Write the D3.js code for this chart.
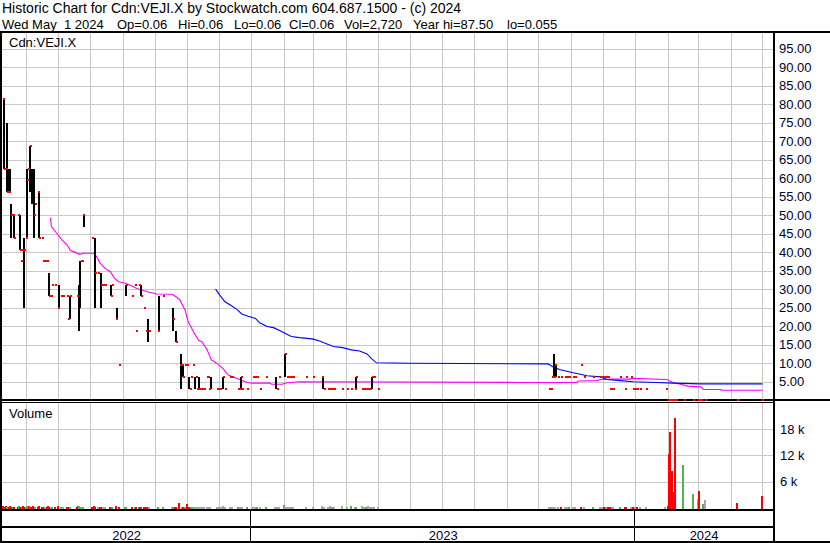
<!DOCTYPE html>
<html><head><meta charset="utf-8">
<script src="https://cdn.jsdelivr.net/npm/d3@7"></script>
<style>
body{margin:0;background:#fff;}
svg{display:block;font-family:"Liberation Sans",Arial,sans-serif;}
text{white-space:pre;}
</style></head><body>
<svg id="c" width="830" height="543"></svg>
<script>
const title1 = "Historic Chart for Cdn:VEJI.X by Stockwatch.com 604.687.1500 - (c) 2024";
const title2Parts = ["Wed May  1 2024", "Op=0.06", "Hi=0.06", "Lo=0.06", "Cl=0.06", "Vol=2,720", "Year hi=87.50", "lo=0.055"];
const symbolLabel = "Cdn:VEJI.X";
const volumeLabel = "Volume";
const startDate = "2022-05-09", endDate = "2024-05-11";
const priceTicks = [5,10,15,20,25,30,35,40,45,50,55,60,65,70,75,80,85,90,95];
const volTicks = [6000,12000,18000];
const volTickLabels = ["6 k","12 k","18 k"];
const yearLabels = ["2022","2023","2024"];

// [day offset from start, high, low]
const rangeBars = [
[1,81.25,62.5],[4,75,56.25],[5,62.5,56.25],[7,62.5,56.25],[8,53.1,43.75],[10,50,43.75],
[16,50,40.6],[20,43.75,25],[23,62.5,43.75],[26,68.75,56.25],[28,62.5,53.1],[29,62.5,43.75],
[34,56.25,43.75],[44,34.4,28.1],[53,31.25,25],[64,28.1,21.9],[72,31.25,18.75],[73,37.5,25],
[77,50,46.9],[87,43.75,25],[93,34.4,25],[103,31.25,28.1],[108,25,21.9],[117,31.25,28.1],
[131,31.25,28.1],[138,21.9,15.6],[148,28.1,18.75],[162,25,18.75],[164,18.75,15.6],
[169,12.5,3.125],[171,9.4,6.25],[177,6.25,3.125],[183,6.25,3.125],[186,6.25,3.125],
[198,6.25,3.125],[209,6.25,3.125],[226,6.25,3.125],[260,6.25,3.125],[268,12.5,6.25],
[304,6.25,3.125],[336,6.25,3.125],[351,6.25,3.125],[524,12.5,6.25],[526,9.4,6.25]
];
// [day offset, close]
const closeDots = [
[1,81.25],[2,62.5],[4,62.5],[5,56.25],[7,56.25],[9,50],[10,50],[11,43.75],[15,50],[17,40.6],[18,37.5],[19,40.6],[21,40.6],
[23,43.75],[24,59.4],[25,62.5],[27,68.75],[30,50],[31,53.1],[34,56.25],[35,43.75],[38,43.75],[39,37.5],[41,37.5],[43,37.5],
[45,28.1],[47,28.1],[48,31.25],[50,31.25],[53,25],[56,28.1],[58,28.1],[62,28.1],[63,21.9],[65,28.1],[71,28.1],[75,37.5],
[76,37.5],[77,50],[86,43.75],[88,34.4],[91,34.4],[94,31.25],[96,31.25],[98,31.25],[104,28.1],[105,31.25],[108,21.9],
[111,9.4],[118,31.25],[124,28.1],[126,31.25],[127,18.75],[130,31.25],[132,28.1],[135,25],[137,18.75],[140,18.75],
[148,18.75],[153,28.1],[163,21.9],[165,15.6],[169,9.4],[171,9.4],[172,6.25],[174,9.4],[176,9.4],[179,3.125],[180,6.25],
[182,9.4],[184,6.25],[185,3.125],[186,3.125],[188,3.125],[190,3.125],[192,3.125],[195,6.25],[196,6.25],[197,3.125],
[204,3.125],[206,3.125],[207,3.125],[210,6.25],[212,3.125],[217,6.25],[219,6.25],[224,3.125],[226,3.125],[227,6.25],
[228,3.125],[233,3.125],[239,6.25],[241,6.25],[242,6.25],[245,3.125],[251,6.25],[261,3.125],[263,6.25],[269,12.5],
[271,6.25],[273,6.25],[275,6.25],[277,6.25],[289,6.25],[296,6.25],[304,6.25],[306,3.125],[310,3.125],[312,3.125],
[314,3.125],[316,3.125],[323,3.125],[328,3.125],[332,3.125],[336,3.125],[337,6.25],[342,3.125],[344,3.125],[346,3.125],
[348,3.125],[350,3.125],[352,6.25],[354,6.25],[357,3.125],
[520,3.125],[522,3.125],[523,6.25],[525,6.25],[526,9.4],[529,6.25],[531,6.25],[535,6.25],[537,6.25],[539,6.25],
[543,6.25],[545,6.25],[550,9.4],[553,6.25],[562,6.25],[569,6.25],[570,6.25],[572,6.25],[574,6.25],[576,6.25],
[578,3.125],[580,3.125],[581,3.125],[588,6.25],[592,3.125],[593,6.25],[598,6.25],[600,3.125],[602,3.125],[604,3.125],
[607,3.125],[612,3.125],[631,3.125],[633,0.06],[635,0.06],[637,0.06],[639,0.06],[641,0.06],[648,0.06],[657,0.06],
[662,0.06],[663,0.06],[665,0.06],[668,0.06],[699,0.06],[723,0.06]
];
// moving averages [day offset, value]
const maShort = [
[46,49.3],[47,46.9],[52,45.1],[57,43.3],[62,41.9],[65,40.4],[69,40.0],[74,39.4],[77,39.7],[87,39.7],[90,38.8],
[93,37.1],[98,35.6],[103,34.7],[107,32.9],[111,32.0],[117,31.6],[123,30.9],[128,30.2],[138,29.3],[147,28.7],
[162,28.6],[166,27.8],[169,27.1],[174,24.4],[177,21.2],[182,18.5],[187,16.1],[190,15.8],[195,13.6],[199,10.9],
[204,10.0],[210,8.6],[215,6.8],[223,5.9],[231,5.0],[237,4.6],[255,4.6],[256,4.3],[266,4.3],[271,4.7],[283,5.0],
[492,4.8],[546,4.8],[548,5.2],[565,5.3],[570,5.6],[580,5.7],[597,5.7],[600,5.9],[632,5.6],[638,4.7],[645,4.3],
[652,3.8],[664,3.6],[667,2.9],[683,2.9],[684,2.7],[723,2.7]
];
const maLong = [
[203,30.0],[207,28.4],[212,26.6],[217,25.7],[223,24.6],[228,23.3],[234,22.7],[241,22.1],[245,20.9],[252,19.9],
[258,19.6],[264,18.8],[269,18.1],[275,17.2],[283,16.9],[290,16.7],[296,16.5],[302,16.0],[309,15.2],[315,14.5],
[324,14.2],[332,13.6],[340,13.3],[347,12.5],[351,11.3],[356,10.1],[388,10.0],[519,9.8],[521,9.5],[524,9.0],
[530,8.3],[537,7.8],[543,7.4],[550,7.0],[556,6.6],[569,6.3],[575,5.6],[588,5.3],[600,5.0],[622,4.8],[638,4.6],
[664,4.4],[723,4.4]
];
// volume [day offset, shares, colour: r=down g=up n=unchanged]
const volume = [
[1,350,"r"],[2,300,"r"],[4,400,"r"],[5,300,"g"],[7,300,"r"],[8,350,"r"],[9,300,"r"],[10,250,"g"],[11,300,"r"],
[15,300,"r"],[16,350,"g"],[17,300,"r"],[18,300,"r"],[19,300,"g"],[20,350,"r"],[21,300,"r"],[23,300,"g"],[24,350,"g"],
[25,300,"g"],[26,400,"r"],[27,300,"g"],[28,300,"r"],[29,350,"r"],[30,300,"r"],[31,300,"g"],[34,300,"r"],[35,350,"r"],
[38,300,"r"],[39,300,"r"],[41,300,"n"],[43,300,"r"],[44,350,"r"],[45,300,"r"],[47,300,"n"],[48,300,"g"],[50,300,"r"],
[53,350,"r"],[56,300,"g"],[58,300,"n"],[62,300,"r"],[63,300,"r"],[64,300,"r"],[65,300,"g"],[71,300,"r"],[72,350,"r"],
[73,450,"g"],[75,300,"g"],[76,300,"n"],[77,300,"g"],[86,300,"r"],[87,350,"r"],[88,300,"r"],[91,300,"n"],[93,300,"r"],
[94,300,"r"],[96,300,"n"],[98,300,"n"],[103,300,"r"],[104,300,"r"],[105,300,"g"],[108,350,"r"],[111,300,"r"],
[117,300,"g"],[118,300,"g"],[124,300,"r"],[126,300,"g"],[127,300,"r"],[130,300,"g"],[131,300,"r"],[132,300,"r"],
[135,300,"r"],[137,300,"r"],[138,300,"r"],[140,300,"n"],[148,300,"g"],[153,300,"g"],[162,300,"n"],[163,300,"g"],
[164,300,"r"],[165,300,"r"],[168,1150,"r"],[171,300,"n"],[172,300,"r"],[174,300,"g"],[176,1000,"r"],[177,300,"r"],
[179,300,"r"],[180,300,"g"],[182,300,"g"],[183,300,"n"],[184,300,"n"],[185,300,"n"],[186,300,"n"],[188,300,"n"],
[190,300,"n"],[192,300,"n"],[195,300,"n"],[196,300,"n"],[197,300,"n"],[198,300,"n"],[204,300,"n"],[206,300,"n"],
[207,300,"n"],[209,300,"n"],[210,450,"n"],[212,300,"n"],[217,300,"n"],[219,300,"n"],[224,300,"g"],[226,300,"n"],
[227,300,"n"],[228,300,"n"],[233,300,"g"],[239,300,"n"],[241,300,"n"],[242,300,"g"],[245,300,"n"],[251,300,"g"],
[260,300,"n"],[261,300,"n"],[263,300,"n"],[268,700,"g"],[269,300,"n"],[271,300,"n"],[273,300,"n"],[275,300,"n"],
[277,300,"n"],[289,300,"n"],[296,300,"n"],[304,450,"n"],[306,300,"n"],[310,300,"n"],[312,450,"n"],[314,300,"g"],
[316,300,"n"],[323,450,"n"],[328,300,"n"],[332,450,"g"],[336,300,"n"],[337,300,"g"],[342,450,"n"],[344,300,"n"],
[346,300,"g"],[348,450,"n"],[350,300,"n"],[351,300,"n"],[352,300,"n"],[354,300,"n"],[357,300,"n"],
[520,300,"n"],[522,300,"g"],[523,300,"n"],[525,300,"n"],[526,300,"n"],[529,300,"n"],[531,300,"r"],[535,300,"n"],
[537,300,"n"],[539,300,"g"],[543,300,"n"],[545,300,"n"],[550,300,"r"],[553,300,"n"],[562,300,"g"],[569,300,"n"],
[570,300,"n"],[572,300,"r"],[574,300,"n"],[576,300,"r"],[578,300,"r"],[580,300,"n"],[581,300,"n"],[588,300,"g"],
[592,300,"r"],[593,300,"r"],[598,300,"n"],[600,300,"r"],[602,300,"n"],[604,300,"r"],[607,300,"n"],[612,300,"n"],
[630,300,"n"],[633,450,"r"],[634,12300,"r"],[635,17300,"r"],[636,8400,"r"],[637,8400,"r"],[638,3600,"r"],
[640,20500,"r"],[647,9800,"g"],[657,3200,"g"],[662,2050,"n"],[663,3900,"r"],[666,900,"g"],[668,1800,"n"],
[699,1150,"r"],[723,2700,"r"]
];

const volColors = {r:"#ff0000", g:"#4cb84c", n:"#a6a6a6"};
const gridColor = "#c8c8c8";
const axisText = "#00002e";
const title2X = [2, 117, 178, 234, 289, 344, 413, 507];

const svg = d3.select("#c");
const parse = d3.timeParse("%Y-%m-%d");
const t0 = parse(startDate), t1 = parse(endDate);
const plotL = 2, plotR = 773;
const x = d3.scaleTime().domain([t0, t1]).range([plotL, plotR]);
const dayDate = d => d3.timeDay.offset(t0, d);
const xd = d => x(dayDate(d));
const y = d3.scaleLinear().domain([0, 100]).range([400.2, 30.0]);
const yv = d3.scaleLinear().domain([0, 24000]).range([508, 402.7]);

svg.append("rect").attr("width", 830).attr("height", 543).attr("fill", "#fff");

// grid
const g = svg.append("g").attr("shape-rendering", "crispEdges").attr("stroke", gridColor).attr("stroke-width", 1);
const months = d3.timeMonth.range(d3.timeMonth.ceil(t0), t1);
months.forEach(m => {
  const px = Math.round(x(m)) + 0.5;
  g.append("line").attr("x1", px).attr("x2", px).attr("y1", 32).attr("y2", 399);
  g.append("line").attr("x1", px).attr("x2", px).attr("y1", 403).attr("y2", 509);
});
priceTicks.forEach(v => {
  const py = Math.round(y(v)) + 0.5;
  g.append("line").attr("x1", plotL).attr("x2", plotR).attr("y1", py).attr("y2", py);
});
volTicks.forEach(v => {
  const py = Math.round(yv(v)) + 0.5;
  g.append("line").attr("x1", plotL).attr("x2", plotR).attr("y1", py).attr("y2", py);
});

// frame
const fr = svg.append("g").attr("fill", "#000").attr("shape-rendering", "crispEdges");
[[0,31,830,2],[0,31,2,512],[773,31,2,512],[0,399,830,2],[0,402,773,1],[0,509,775,2],[0,526,775,2],[0,541,830,2]]
  .forEach(r => fr.append("rect").attr("x", r[0]).attr("y", r[1]).attr("width", r[2]).attr("height", r[3]));
const years = d3.timeYear.range(d3.timeYear.ceil(t0), t1);
years.forEach(yr => {
  const px = Math.round(x(yr)) - 1;
  fr.append("rect").attr("x", px).attr("y", 510).attr("width", 1).attr("height", 32);
});

// moving averages
const line = d3.line().x(d => xd(d[0])).y(d => y(d[1]));
svg.append("path").datum(maShort).attr("d", line).attr("fill", "none").attr("stroke", "#ff00ff").attr("stroke-width", 1.1);
svg.append("path").datum(maLong).attr("d", line).attr("fill", "none").attr("stroke", "#0000ff").attr("stroke-width", 1.1);

// price bars
svg.append("g").attr("shape-rendering", "crispEdges").selectAll("rect").data(rangeBars).join("rect")
  .attr("x", d => Math.round(xd(d[0])))
  .attr("y", d => y(d[1]))
  .attr("width", 1.5)
  .attr("height", d => y(d[2]) - y(d[1]))
  .attr("fill", "#000");
svg.append("g").attr("shape-rendering", "crispEdges").selectAll("rect").data(closeDots).join("rect")
  .attr("x", d => Math.round(xd(d[0])) - 0.5)
  .attr("y", d => Math.round(y(d[1])) - 1)
  .attr("width", 2.5).attr("height", 2)
  .attr("fill", "#ff0000");

// volume
svg.append("g").attr("shape-rendering", "crispEdges").selectAll("rect").data(volume).join("rect")
  .attr("x", d => Math.round(xd(d[0])) - 1)
  .attr("y", d => yv(d[1]))
  .attr("width", 2)
  .attr("height", d => yv(0) - yv(d[1]) + 1)
  .attr("fill", d => volColors[d[2]]);

// texts
svg.append("text").attr("x", 2).attr("y", 13).attr("font-size", 14).attr("fill", "#000").text(title1);
svg.append("g").selectAll("text").data(title2Parts).join("text")
  .attr("x", (d, i) => title2X[i]).attr("y", 28.5).attr("font-size", 13).attr("fill", "#000").text(d => d);
svg.append("text").attr("x", 9).attr("y", 47).attr("font-size", 13).attr("fill", "#000").text(symbolLabel);
svg.append("text").attr("x", 9).attr("y", 418).attr("font-size", 13).attr("fill", "#000").text(volumeLabel);

const fmt = d3.format(".2f");
svg.append("g").selectAll("text").data(priceTicks).join("text")
  .attr("x", 779).attr("y", d => y(d) + 4.6).attr("font-size", 13).attr("fill", axisText).text(d => fmt(d));
svg.append("g").selectAll("text").data(volTicks).join("text")
  .attr("x", 780).attr("y", (d) => yv(d) + 4.6).attr("font-size", 13).attr("fill", axisText)
  .text((d, i) => volTickLabels[i]);

// year labels centred in their sections
const bounds = [plotL].concat(years.map(d => x(d))).concat([plotR]);
svg.append("g").selectAll("text").data(yearLabels).join("text")
  .attr("x", (d, i) => (bounds[i] + bounds[i + 1]) / 2)
  .attr("y", 540).attr("text-anchor", "middle").attr("font-size", 13).attr("fill", axisText).text(d => d);
</script>
</body></html>
